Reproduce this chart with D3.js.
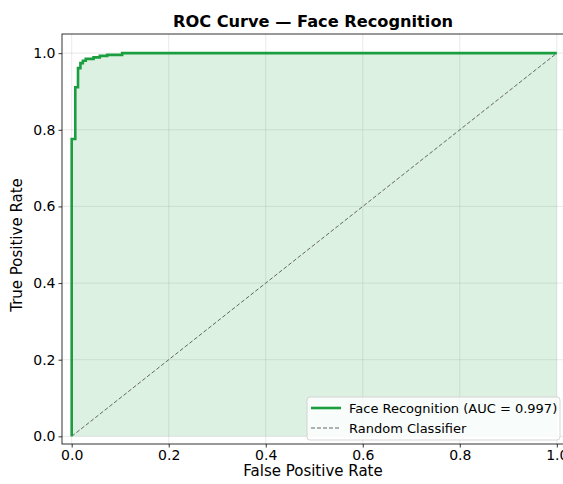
<!DOCTYPE html>
<html>
<head>
<meta charset="utf-8">
<script src="https://cdn.jsdelivr.net/npm/d3@7"></script>
<style>
  body { margin: 0; background: #fff; }
  svg text { font-family: "DejaVu Sans", sans-serif; }
</style>
</head>
<body>
<div id="chart"></div>
<script>
const width = 563, height = 484;

// ROC points
const fpr = [0, 0, 0.0074, 0.0074, 0.013, 0.013, 0.018, 0.018, 0.023, 0.023, 0.029, 0.029, 0.045, 0.045, 0.058, 0.058, 0.073, 0.073, 0.104, 0.104, 1];
const tpr = [0, 0.776, 0.776, 0.911, 0.911, 0.961, 0.961, 0.974, 0.974, 0.980, 0.980, 0.985, 0.985, 0.989, 0.989, 0.993, 0.993, 0.9955, 0.9955, 1, 1];
const xTicks = [0, 0.2, 0.4, 0.6, 0.8, 1.0];
const yTicks = [0, 0.2, 0.4, 0.6, 0.8, 1.0];
const legendLabels = ["Face Recognition (AUC = 0.997)", "Random Classifier"];

const green = "#1a9e40";

const margin = {left: 62, top: 34, right: -3.5, bottom: 40};
const x = d3.scaleLinear().domain([-0.02, 1.02]).range([margin.left, width - margin.right]);
const y = d3.scaleLinear().domain([-0.02, 1.05]).range([height - margin.bottom, margin.top]);

const svg = d3.select("#chart").append("svg")
    .attr("width", width)
    .attr("height", height);

const pts = fpr.map((f, i) => [f, tpr[i]]);

// grid
const grid = svg.append("g");
grid.selectAll(".gx").data(xTicks).join("line")
    .attr("x1", d => x(d)).attr("x2", d => x(d))
    .attr("y1", y.range()[0]).attr("y2", y.range()[1])
    .attr("stroke", "#b0b0b0").attr("stroke-opacity", 0.35).attr("stroke-width", 0.8);
grid.selectAll(".gy").data(yTicks).join("line")
    .attr("y1", d => y(d)).attr("y2", d => y(d))
    .attr("x1", x.range()[0]).attr("x2", x.range()[1])
    .attr("stroke", "#b0b0b0").attr("stroke-opacity", 0.35).attr("stroke-width", 0.8);

// fill under curve
svg.append("path")
    .datum(pts)
    .attr("fill", green)
    .attr("fill-opacity", 0.15)
    .attr("d", d3.area().x(d => x(d[0])).y0(y(0)).y1(d => y(d[1])));

// diagonal
svg.append("line")
    .attr("x1", x(0)).attr("y1", y(0))
    .attr("x2", x(1)).attr("y2", y(1))
    .attr("stroke", "#666").attr("stroke-width", 1)
    .attr("stroke-dasharray", "4,2");

// roc curve
svg.append("path")
    .datum(pts)
    .attr("fill", "none")
    .attr("stroke", green)
    .attr("stroke-width", 2.6)
    .attr("d", d3.line().x(d => x(d[0])).y(d => y(d[1])));

// axes
const xAxis = svg.append("g")
    .attr("transform", `translate(0,${y.range()[0]})`)
    .call(d3.axisBottom(x).tickValues(xTicks).tickFormat(d3.format(".1f")).tickSize(3.5).tickPadding(3));
const yAxis = svg.append("g")
    .attr("transform", `translate(${x.range()[0]},0)`)
    .call(d3.axisLeft(y).tickValues(yTicks).tickFormat(d3.format(".1f")).tickSize(3.5).tickPadding(3));
[xAxis, yAxis].forEach(a => {
  a.selectAll("text").attr("font-size", 14).attr("fill", "#000");
  a.selectAll("line").attr("stroke", "#000").attr("stroke-width", 0.8);
  a.select(".domain").remove();
});

// frame
svg.append("rect")
    .attr("x", x.range()[0]).attr("y", y.range()[1])
    .attr("width", x.range()[1] - x.range()[0])
    .attr("height", y.range()[0] - y.range()[1])
    .attr("fill", "none").attr("stroke", "#000").attr("stroke-width", 0.8);

// labels
svg.append("text")
    .attr("x", 313).attr("y", 27)
    .attr("text-anchor", "middle")
    .attr("font-size", 16.2).attr("font-weight", "bold")
    .text("ROC Curve — Face Recognition");
svg.append("text")
    .attr("x", 313).attr("y", 476)
    .attr("text-anchor", "middle")
    .attr("font-size", 15)
    .text("False Positive Rate");
svg.append("text")
    .attr("transform", "translate(22,245) rotate(-90)")
    .attr("text-anchor", "middle")
    .attr("font-size", 15)
    .text("True Positive Rate");

// legend
const lg = svg.append("g").attr("transform", "translate(307,397)");
lg.append("rect")
    .attr("width", 253).attr("height", 43).attr("rx", 3)
    .attr("fill", "#fff").attr("fill-opacity", 0.8)
    .attr("stroke", "#ccc").attr("stroke-width", 0.8);
lg.selectAll(".ll").data(legendLabels).join("line")
    .attr("x1", 4).attr("x2", 34)
    .attr("y1", (d, i) => 11 + i * 20).attr("y2", (d, i) => 11 + i * 20)
    .attr("stroke", (d, i) => i === 0 ? green : "#666")
    .attr("stroke-width", (d, i) => i === 0 ? 2.6 : 1)
    .attr("stroke-dasharray", (d, i) => i === 0 ? null : "4,2");
lg.selectAll(".lt").data(legendLabels).join("text")
    .attr("x", 42).attr("y", (d, i) => 15.5 + i * 20)
    .attr("font-size", 13)
    .text(d => d);
</script>
</body>
</html>
